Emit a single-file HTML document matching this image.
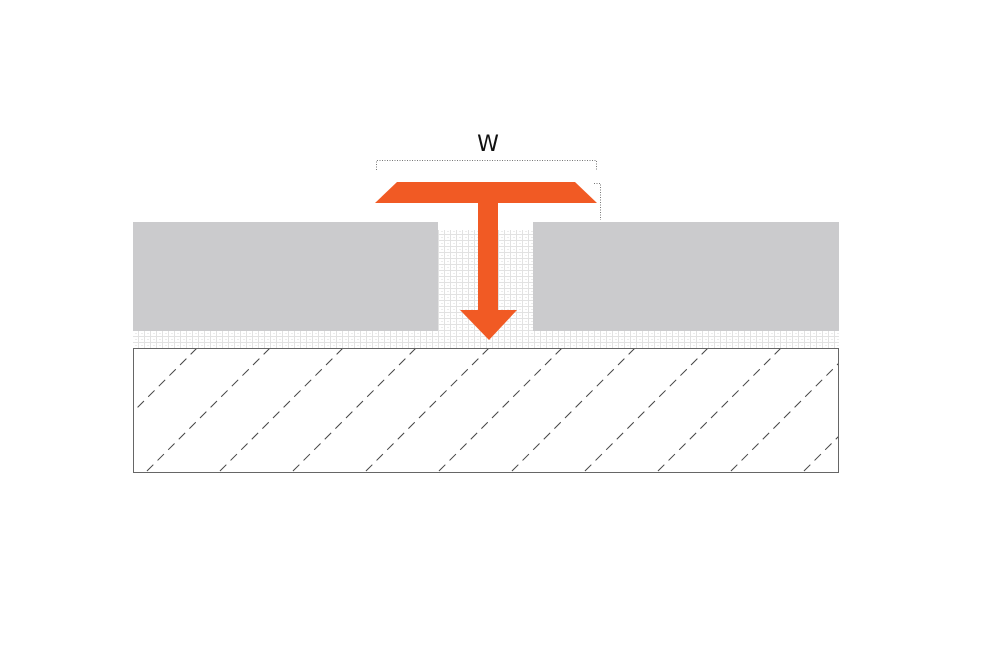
<!DOCTYPE html>
<html><head><style>body{margin:0;background:#fff}</style></head><body>
<svg width="1000" height="658" viewBox="0 0 1000 658" xmlns="http://www.w3.org/2000/svg">
<defs>
<pattern id="g" width="6" height="6" patternUnits="userSpaceOnUse">
<rect width="6" height="6" fill="#fff"/>
<rect x="0" y="0" width="6" height="1" fill="#e2e2e2"/>
<rect x="0" y="0" width="1" height="6" fill="#e2e2e2"/>
<rect x="3" y="3" width="2" height="1" fill="#ececec"/>
</pattern>
<clipPath id="c"><rect x="133" y="348" width="706" height="124"/></clipPath>
</defs>
<rect x="438" y="230" width="95" height="118" fill="url(#g)"/>
<rect x="133" y="331" width="706" height="17" fill="url(#g)"/>
<rect x="133" y="222" width="305" height="109" fill="#cbcbcd"/>
<rect x="533" y="222" width="306" height="109" fill="#cbcbcd"/>
<g clip-path="url(#c)" stroke="#444" stroke-width="1" stroke-dasharray="9,6">
<line x1="197" y1="348" x2="73" y2="472"/>
<line x1="270" y1="348" x2="146" y2="472"/>
<line x1="343" y1="348" x2="219" y2="472"/>
<line x1="416" y1="348" x2="292" y2="472"/>
<line x1="489" y1="348" x2="365" y2="472"/>
<line x1="562" y1="348" x2="438" y2="472"/>
<line x1="635" y1="348" x2="511" y2="472"/>
<line x1="708" y1="348" x2="584" y2="472"/>
<line x1="781" y1="348" x2="657" y2="472"/>
<line x1="854" y1="348" x2="730" y2="472"/>
<line x1="927" y1="348" x2="803" y2="472"/>
</g>
<rect x="133.5" y="348.5" width="705" height="124" fill="none" stroke="#666" stroke-width="1"/>
<polygon points="397,182 575,182 597,203 375,203" fill="#f15a24"/>
<rect x="478" y="202" width="20" height="110" fill="#f15a24"/>
<polygon points="460,310 517,310 489,340" fill="#f15a24"/>
<path d="M376.5 170 V160.5 H596.5 V170" fill="none" stroke="#777" stroke-width="1" stroke-dasharray="1,1.5"/>
<path d="M594 183.5 H600.5 V220" fill="none" stroke="#777" stroke-width="1" stroke-dasharray="1,1.5"/>
<text x="488" y="151" text-anchor="middle" font-family="DejaVu Sans, sans-serif" font-size="22" fill="#111">W</text>
</svg>
</body></html>
